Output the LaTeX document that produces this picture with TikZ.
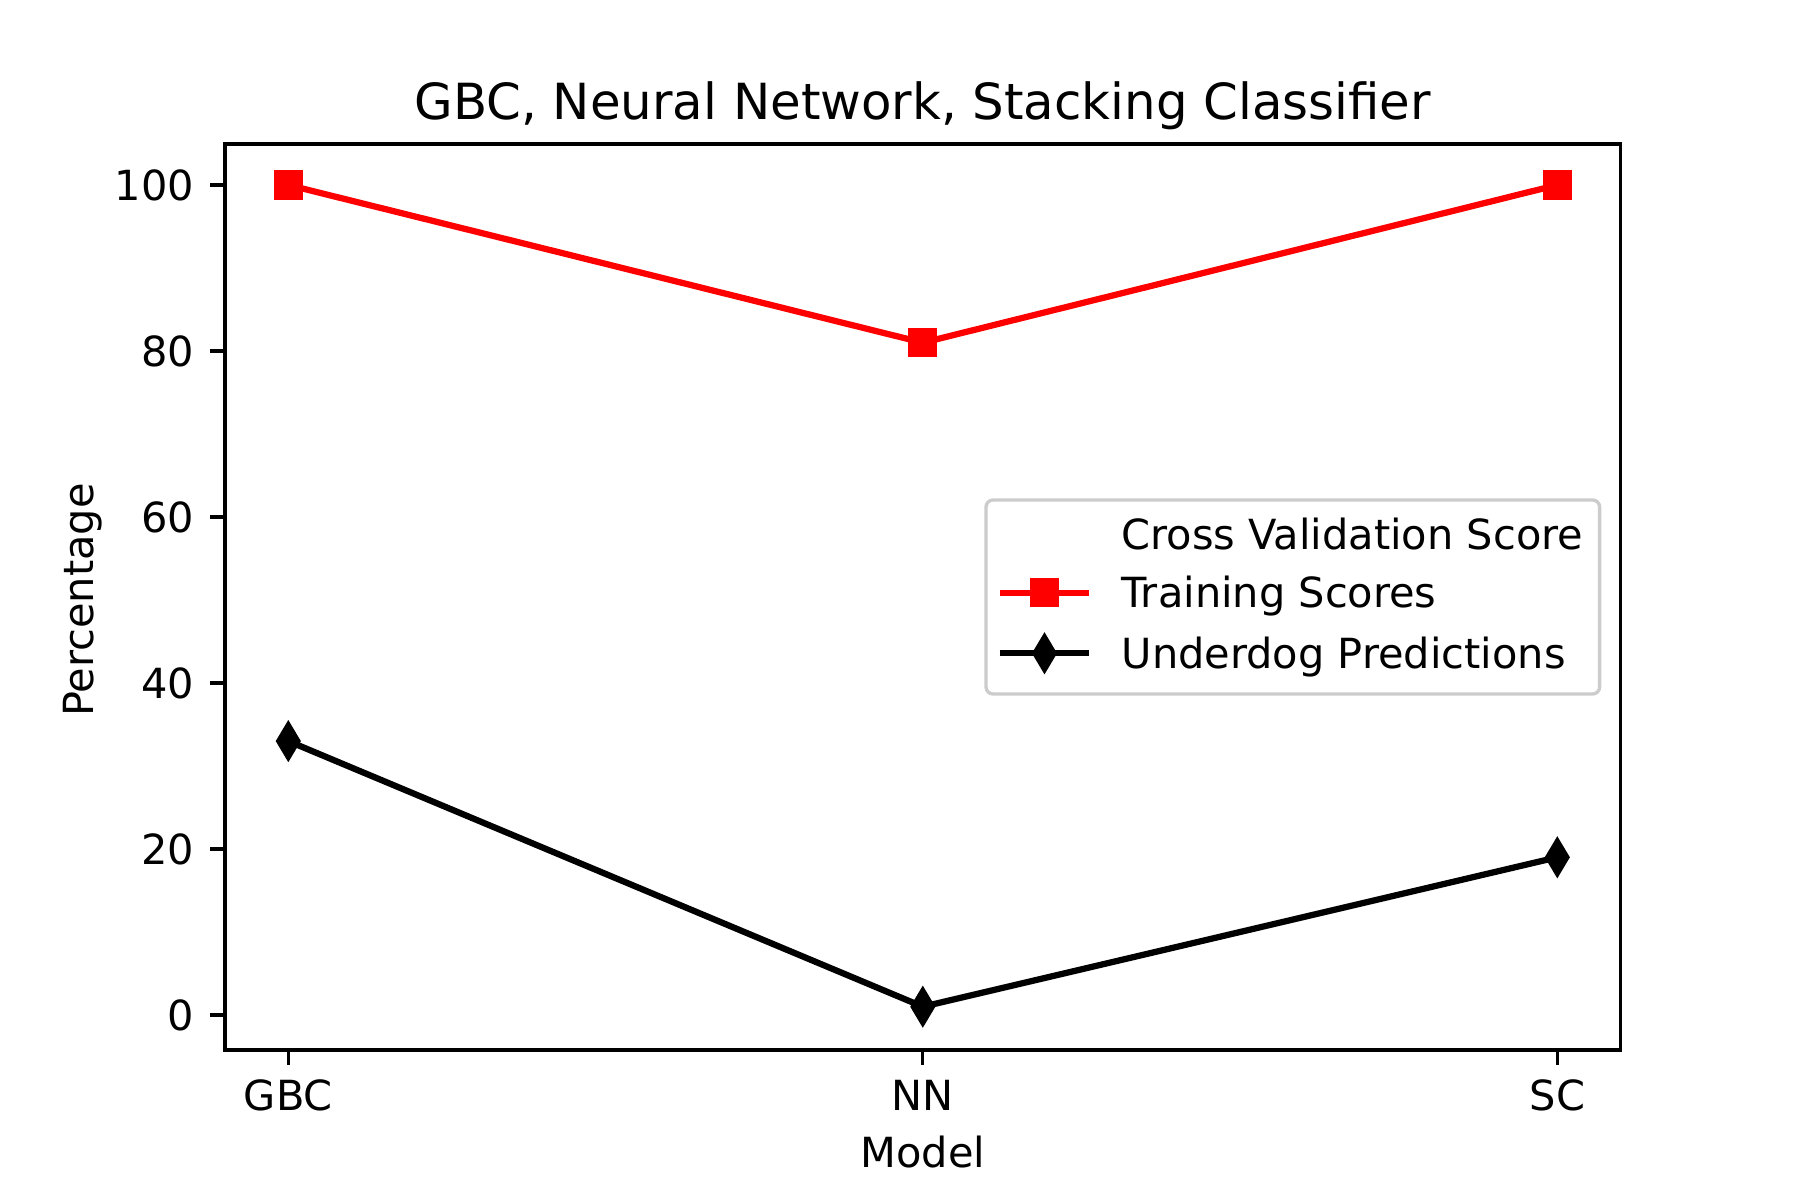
\documentclass[tikz,border=0pt]{standalone}
\usepackage{fontspec}
\setmainfont{DejaVu Sans}
\usetikzlibrary{positioning}
\usetikzlibrary{shapes}
\definecolor{legframe}{gray}{0.8}
\tikzset{
sq/.style={
  rectangle,
  inner sep=0pt,
  minimum size=7bp,
  fill=red
  },
dm/.style={
  diamond,
  inner sep=0pt,
  minimum width=6.2bp,
  minimum height=10.3bp,
  fill=black
  },
trainline/.style={red,line width=1.5bp,line join=round},
dogline/.style={black,line width=1.5bp,line join=round},
tk/.style={line width=0.8bp},
tl/.style={inner sep=0pt,font=\fontsize{10}{12}\selectfont}
}

\begin{document}
\begin{tikzpicture}[x=152.28bp,y=1.992bp]
\useasboundingbox (-0.45437,-22.289) rectangle (2.38251,122.289);
% axes
\draw[tk] (-0.1,-4.217) rectangle (2.1,104.94);
\foreach \v in {0,20,...,100}{
  \draw[tk] (-0.1,\v) -- ++(-3.5bp,0) node[tl,anchor=east,xshift=-3.5bp] (y\v) {\v};
}
\foreach \m/\n [count=\i from 0] in {GBC/gbc,NN/nn,SC/sc}{
  \draw[tk] (\i,-4.217) -- ++(0,-3.5bp);
  \node[tl,anchor=base] (\n) at (\i,-11.45) {\m};
}
\node[tl,anchor=base] (xlab) at (1,-18.43) {Model};
\node[tl,anchor=base,rotate=90] (ylab) at (-0.3078,50) {Percentage};
\node[inner sep=0pt,anchor=base,font=\fontsize{12}{14}\selectfont] (title) at (1,107.83) {GBC, Neural Network, Stacking Classifier};
% data
\coordinate (t1) at (0,100);
\coordinate (t2) at (1,81);
\coordinate (t3) at (2,100);
\coordinate (u1) at (0,33);
\coordinate (u2) at (1,1);
\coordinate (u3) at (2,19);
\draw[trainline] (t1) -- (t2) -- (t3);
\draw[dogline] (u1) -- (u2) -- (u3);
\foreach \p in {t1,t2,t3}{ \node[sq] (m\p) at (\p) {}; }
\foreach \p in {u1,u2,u3}{ \node[dm] (m\p) at (\p) {}; }
% legend
\draw[legframe,line width=0.8bp,rounded corners=1.7bp,fill=white] (1.0996,38.67) rectangle (2.0667,62.05);
\node[tl,anchor=base west] (cv) at (1.3121,56.08) {Cross Validation Score};
\node[tl,anchor=base west] (ts) at (1.3121,49.10) {Training Scores};
\node[tl,anchor=base west] (up) at (1.3121,41.75) {Underdog Predictions};
\coordinate (ra) at (1.1210,50.88);
\coordinate (rb) at (1.2626,50.88);
\coordinate (ka) at (1.1210,43.58);
\coordinate (kb) at (1.2626,43.58);
\draw[trainline] (ra) -- (rb);
\draw[dogline] (ka) -- (kb);
\node[sq] (rm) at (1.1918,50.88) {};
\node[dm] (km) at (1.1918,43.58) {};
\end{tikzpicture}
\end{document}
